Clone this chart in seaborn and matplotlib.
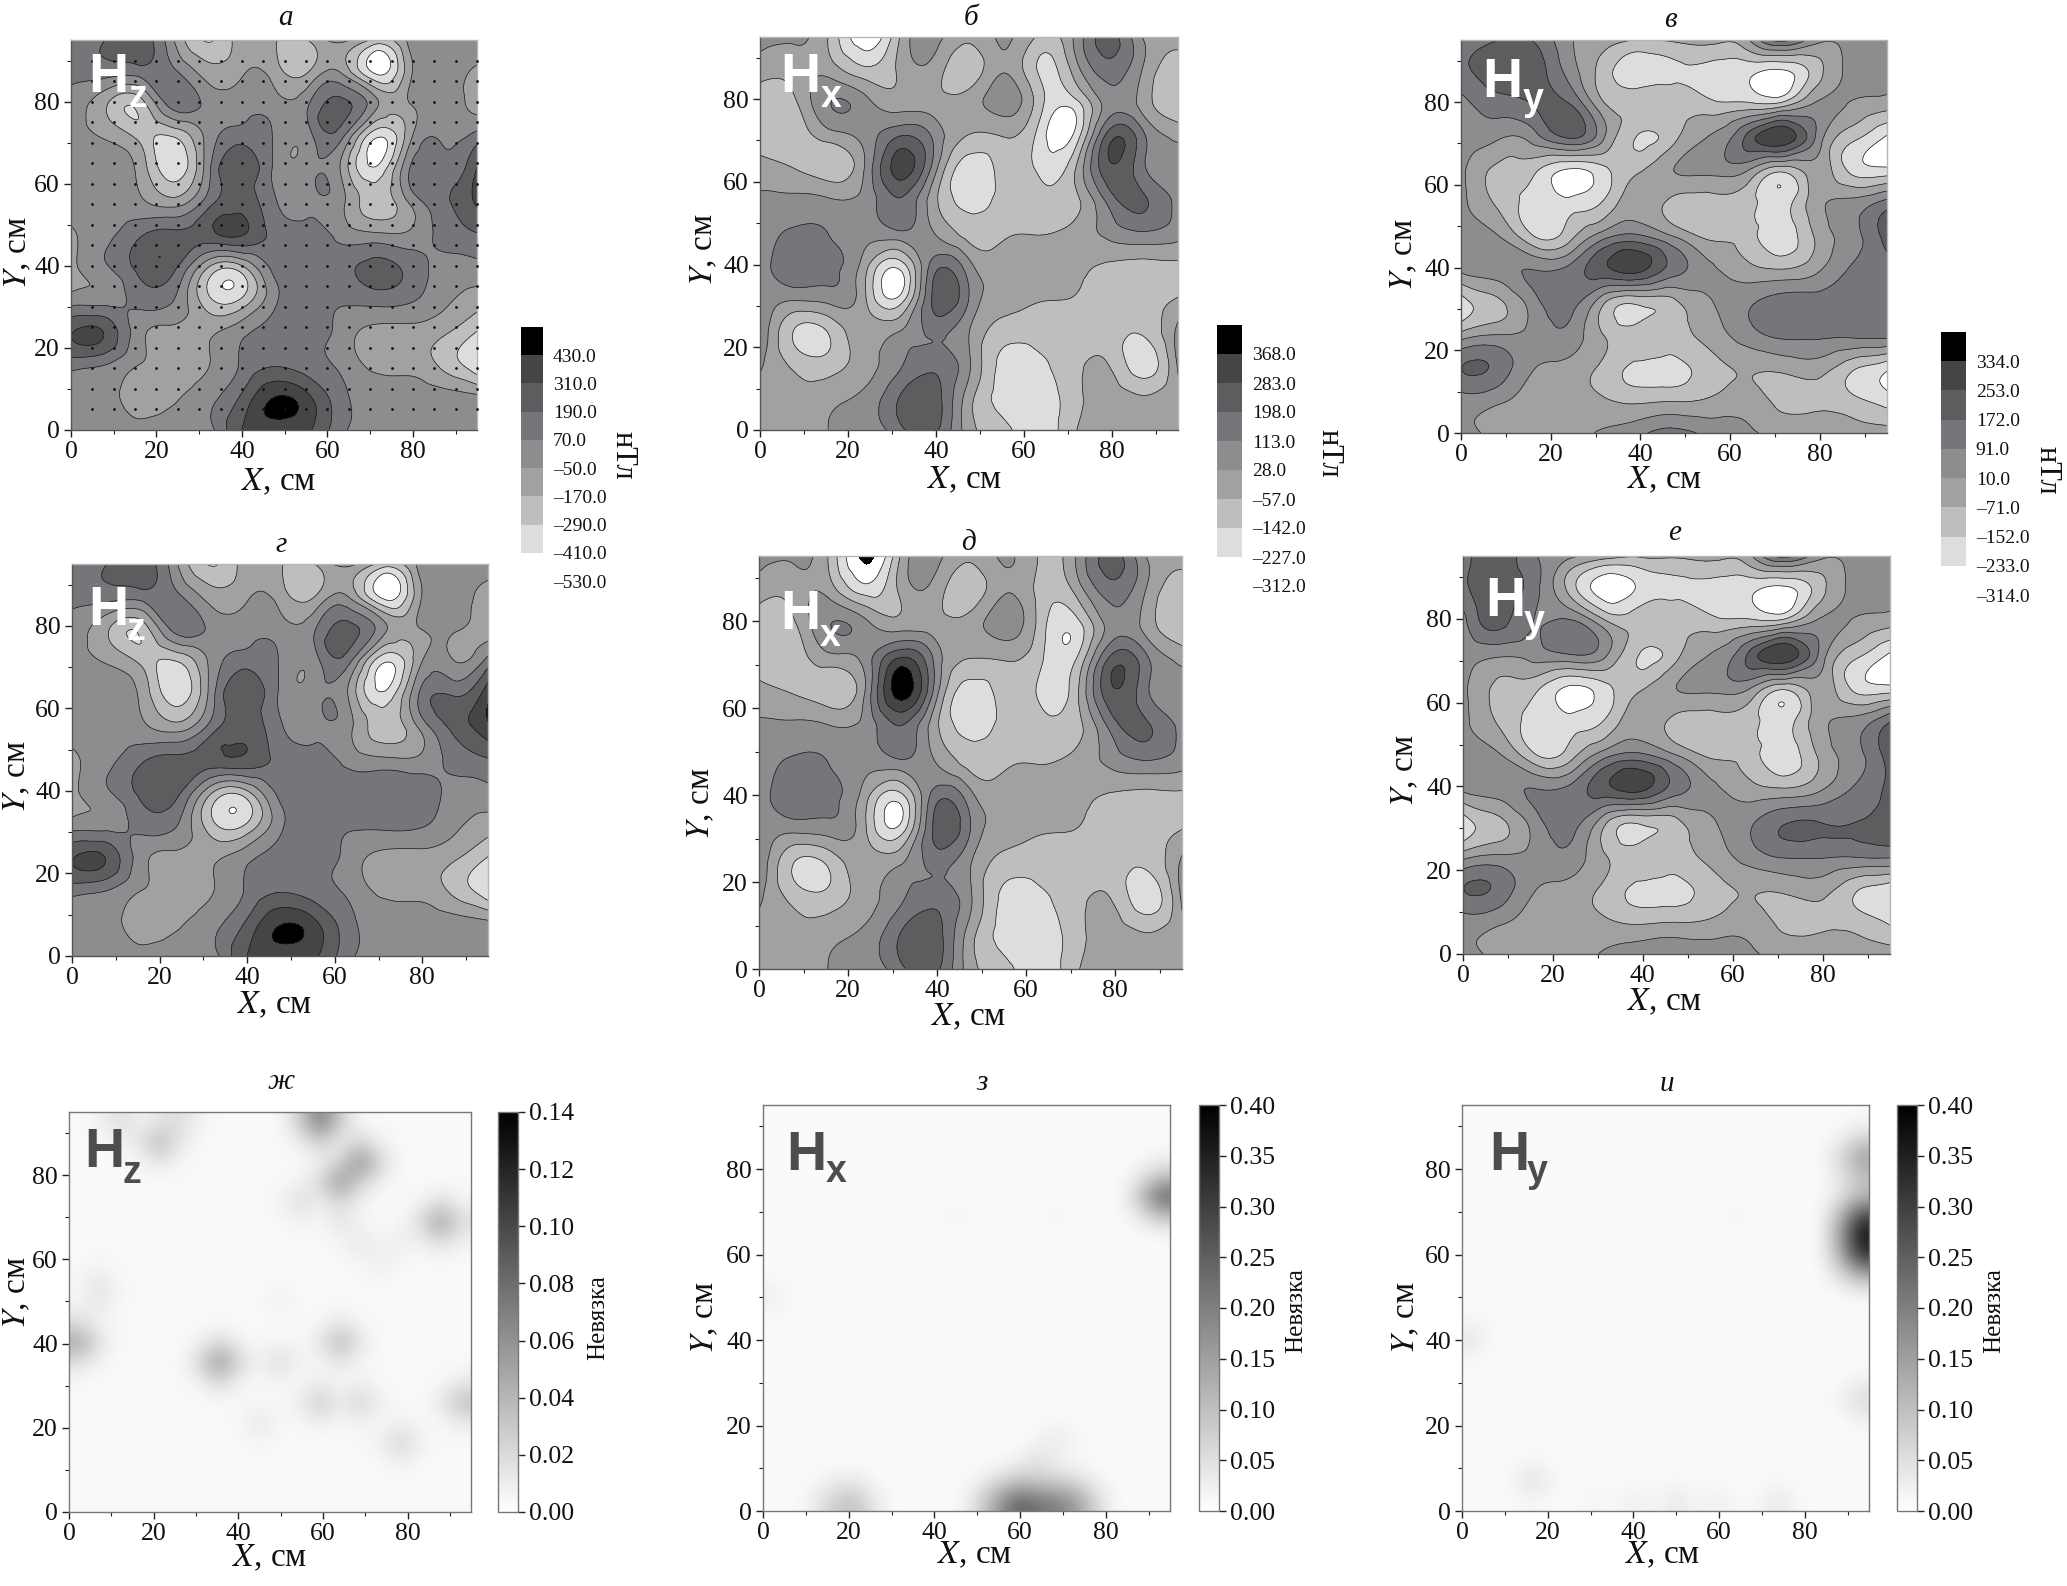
import numpy as np
import matplotlib
matplotlib.use("Agg")
import matplotlib.pyplot as plt
import matplotlib.tri as mtri
from matplotlib.colors import ListedColormap, BoundaryNorm
from matplotlib.cm import ScalarMappable
import seaborn as sns

W, H = 2067, 1586
sns.set_theme(style="ticks")
plt.rcParams["font.family"] = ["Liberation Serif", "DejaVu Serif"]
plt.rcParams["mathtext.fontset"] = "stix"

GRID_AXIS = [0, 7.92, 15.83, 23.75, 31.67, 39.58, 47.5, 55.42, 63.33, 71.25, 79.17, 87.08, 95]
GRID_Y_TOP_DOWN = GRID_AXIS[::-1]

# rows run from Y=95 (top) to Y=0 (bottom), columns from X=0 to X=95
HZ_A = [
    [110, 190, 250, -30, -300, -110, -150, -170, -20, -200, -20, 20, 20],
    [110, 120, 120, 110, -100, -70, -100, -170, -60, -430, -90, 20, -70],
    [20, -150, -250, 120, 30, 20, 10, 60, 230, -20, -60, 10, -90],
    [10, -60, -200, -300, -20, 140, 60, 20, 90, -400, -90, 50, 130],
    [10, 10, -80, -360, 0, 300, 50, 20, -70, -380, 70, 130, 320],
    [10, 10, -20, -110, 120, 260, 90, 40, -20, -240, -40, 160, 330],
    [-70, 30, 170, 230, 260, 320, 140, 110, 30, -20, -20, 110, 180],
    [-90, 50, 220, 230, -150, -220, 100, 90, 140, 230, 150, 30, 30],
    [10, 20, 110, 80, -240, -280, 40, 110, 90, 120, 90, -20, -110],
    [300, 300, 0, -80, -70, 30, 130, 150, 20, -90, -90, -150, -300],
    [120, 70, -50, -100, -60, 80, 180, 130, 40, -80, -90, -200, -380],
    [10, 10, -110, -70, 20, 200, 430, 340, 110, 20, 20, 10, -20],
    [10, 10, 10, 10, 10, 300, 350, 330, 100, 20, 20, 20, 20],
]
HX_B = [
    [60, 40, -70, -290, -60, 60, -40, 40, -70, 30, 230, 20, -20],
    [-20, -20, -10, -120, -40, -10, -110, 20, -150, -30, 160, 20, -120],
    [-110, -70, 110, 60, -15, -20, -20, 80, -100, -180, 70, -10, -120],
    [-100, -110, -10, 60, 190, 90, -60, -50, -170, -220, 230, 130, 0],
    [-20, -60, -110, 30, 320, 70, -190, -110, -160, -80, 260, 130, 70],
    [40, 50, 40, 60, 190, -30, -170, -110, -100, -90, 140, 210, 80],
    [60, 130, 110, 60, 90, 30, -90, -70, -60, -20, 50, 100, 60],
    [70, 170, 140, -20, -200, 160, 60, -15, -15, -30, -70, -90, -80],
    [60, 40, 60, -40, -200, 220, 110, -15, -50, -60, -100, -110, -50],
    [110, -150, -130, -10, 30, 130, 30, -100, -110, -100, -110, -130, 50],
    [40, -80, -100, -10, 100, 170, 40, -170, -160, -90, -57, -190, 40],
    [10, -30, 0, 50, 200, 240, -20, -170, -190, -90, -20, -50, 10],
    [0, -10, 30, 60, 170, 220, -20, -120, -200, -70, -20, -10, 10],
]
HY_C = [
    [130, 170, 170, 30, -30, -70, -60, -40, -20, 200, 40, 50, 50],
    [150, 220, 220, 70, -110, -200, -170, -180, -210, -260, -110, 40, 50],
    [60, 130, 170, 190, -50, -100, -100, -120, -120, -100, 30, 0, -40],
    [40, 20, 40, 170, 20, -160, -90, 20, 180, 310, 80, -130, -250],
    [30, -90, -130, -250, -180, -80, 10, 30, 20, -140, -30, -170, -200],
    [30, -80, -190, -200, -140, -20, -100, -120, -120, -190, -20, 40, 130],
    [40, 20, -140, -110, 60, 110, 10, -90, -110, -200, -60, 60, 210],
    [30, 60, 90, 110, 230, 280, 130, 30, -40, -70, -10, 100, 130],
    [-190, -90, 50, 130, -50, -130, -90, 0, 70, 130, 130, 130, 130],
    [-40, 10, 40, 70, -70, -110, -100, -40, 50, 110, 110, 110, 120],
    [170, 150, 20, -20, -90, -170, -180, -110, -60, -50, -30, -130, -210],
    [50, 30, -20, -30, -60, -90, -80, -60, -30, -90, -90, -130, -190],
    [30, -10, -20, -20, 20, 70, 120, 70, 30, -10, 0, -30, -40],
]
# panels г, д, е read very close to а, б, в: (row, column, value) where they differ
HZ_D_DIFF = [(0, 9, -220), (1, 9, -450), (6, 5, 280), (7, 9, 170), (8, 9, 100), (4, 12, 390), (5, 12, 400),
             (4, 11, 180), (5, 11, 220), (2, 11, -30), (1, 12, -100), (2, 12, -100),
             (3, 11, -40), (6, 0, -80), (11, 6, 420)]
HX_E_DIFF = [(0, 3, -340), (1, 3, -180), (3, 4, 300), (4, 4, 400), (3, 8, -130), (3, 9, -140),
             (7, 4, -180), (8, 4, -180), (1, 8, -90)]
HY_F_DIFF = [(1, 4, -280), (1, 3, -100), (1, 5, -210), (0, 5, -60), (0, 1, 230), (1, 1, 230),
             (1, 2, 120), (0, 2, 100), (2, 1, 200), (2, 2, 90), (2, 3, 110), (3, 3, 80),
             (10, 12, -190), (11, 12, -170), (10, 11, -130), (11, 11, -110), (12, 6, 80),
             (8, 12, 200), (6, 12, 220), (5, 12, 170), (7, 12, 190), (8, 11, 170), (8, 10, 170), (8, 9, 160)]

LEVELS_Z = [-530, -410, -290, -170, -50, 70, 190, 310, 430, 550]
LEVELS_X = [-312, -227, -142, -57, 28, 113, 198, 283, 368, 453]
LEVELS_Y = [-314, -233, -152, -71, 10, 91, 172, 253, 334, 415]
BAND_COLORS = ["#ffffff", "#dcddde", "#bdbec0", "#a0a1a3", "#8c8d8f", "#757679", "#5c5d5f", "#454547", "#000000"]

SAMPLE_X = [5, 10, 15, 20, 25, 30, 35, 40, 45, 50, 55, 60, 65, 70, 75, 80, 85, 90, 95]
SAMPLE_Y = [5, 10, 15, 20, 25, 30, 35, 40, 45, 50, 55, 60, 65, 70, 75, 80, 85, 90]

RES_BASE_G, RES_BASE_H, RES_BASE_I = 0.0035, 0.008, 0.008
RES_G_X = [60, 68, 64, 21, 14, 25, 55, 88, 2, 36, 49, 63, 60, 67, 45, 78, 94, 5, 5, 65, 70, 78, 75, 50]
RES_G_Y = [93, 83, 78, 88, 93, 94, 75, 68, 38, 35, 35, 38, 25, 25, 20, 17, 26, 55, 50, 68, 62, 62, 57, 50]
RES_G_V = [.075, .065, .06, .04, .02, .02, .02, .055, .05, .06, .02, .04, .03, .025, .015, .025, .035,
           .015, .015, .015, .015, .012, .012, .01]
RES_H_X = [93, 95, 20, 17, 60, 55, 65, 70, 72, 62, 67, 0, 45, 70, 75]
RES_H_Y = [73, 80, 3, 2, 3, 2, 2, 2, 3, 10, 15, 50, 70, 70, 60]
RES_H_V = [.25, .05, .10, .08, .25, .15, .22, .2, .15, .05, .04, .03, .02, .02, .015]
RES_I_X = [94, 94, 94, 94, 94, 95, 0, 16, 50, 40, 75, 65, 40, 60, 30]
RES_I_Y = [63, 58, 68, 83, 78, 25, 38, 7, 3, 2, 3, 70, 55, 2, 2]
RES_I_V = [.38, .3, .3, .15, .1, .06, .04, .05, .04, .03, .04, .02, .015, .03, .02]
BLOB_STENCIL = [[.12, .35, .12], [.35, 1, .35], [.12, .35, .12]]


def box(x0, y0, x1, y1):
    return [x0 / W, 1 - y1 / H, (x1 - x0) / W, (y1 - y0) / H]


def ftext(x, y, s, **kw):
    fig.text(x / W, 1 - y / H, s, **kw)


def style_axes(ax, boxed=False):
    ax.set_xlim(0, 95)
    ax.set_ylim(0, 95)
    ax.set_xticks([0, 20, 40, 60, 80])
    ax.set_yticks([0, 20, 40, 60, 80])
    ax.set_xticks([10, 30, 50, 70, 90], minor=True)
    ax.set_yticks([10, 30, 50, 70, 90], minor=True)
    ax.tick_params(which="major", length=5, width=1, labelsize=18.5, pad=3, color="#222222", labelcolor="#111111")
    ax.tick_params(which="minor", length=3, width=0.8, color="#222222")
    for s in ax.spines.values():
        s.set_linewidth(1.0)
        s.set_color("#777777" if boxed else "#b5b5b5")
    if not boxed:
        ax.spines["left"].set_color("#555555")
        ax.spines["bottom"].set_color("#555555")


def contour_panel(rect, grid, levels):
    ax = fig.add_axes(box(*rect))
    X, Y = np.meshgrid(GRID_AXIS, GRID_Y_TOP_DOWN)
    tri = mtri.Triangulation(X.ravel(), Y.ravel())
    fine_tri, fine_z = mtri.UniformTriRefiner(tri).refine_field(np.asarray(grid, float).ravel(), subdiv=4)
    cmap = ListedColormap(BAND_COLORS).with_extremes(under="#000000", over="#000000")
    norm = BoundaryNorm(levels, cmap.N)
    ax.tricontourf(fine_tri, fine_z, levels=levels, cmap=cmap, norm=norm, extend="both")
    ax.tricontour(fine_tri, fine_z, levels=levels[1:-1], colors="#1a1a1a", linewidths=0.5,
                  linestyles="solid", negative_linestyles="solid")
    style_axes(ax)
    return ax


def band_colorbar(rect, levels):
    cax = fig.add_axes(box(*rect))
    cmap = ListedColormap(BAND_COLORS)
    norm = BoundaryNorm(levels, cmap.N)
    cb = fig.colorbar(ScalarMappable(norm=norm, cmap=cmap), cax=cax, spacing="uniform")
    cb.set_ticks(levels[:-1])
    cb.set_ticklabels([f"{v:.1f}".replace("-", "\u2013") for v in levels[:-1]])
    cb.minorticks_off()
    cb.ax.tick_params(which="both", length=0, labelsize=14, pad=7, labelcolor="#111111")
    cb.outline.set_visible(False)


def residual_panel(rect, xs, ys, vs, base, vmax):
    ax = fig.add_axes(box(*rect))
    field = np.full((20, 20), base)
    stencil = np.array(BLOB_STENCIL)
    for x, y, v in zip(xs, ys, vs):
        i, j = min(int(y // 4.75), 19), min(int(x // 4.75), 19)
        for di in (-1, 0, 1):
            for dj in (-1, 0, 1):
                a, b = i + di, j + dj
                if 0 <= a < 20 and 0 <= b < 20:
                    field[a, b] = max(field[a, b], v * stencil[di + 1, dj + 1])
    cmap = sns.blend_palette(["#ffffff", "#000000"], n_colors=256, as_cmap=True)
    im = ax.imshow(field, origin="lower", extent=[0, 95, 0, 95], cmap=cmap, vmin=0, vmax=vmax,
                   interpolation="bicubic", aspect="auto")
    style_axes(ax, boxed=True)
    return im


def field_of(grid, diff=()):
    a = np.array(grid, float)
    for r, c, v in diff:
        a[r, c] = v
    return a


fig = plt.figure(figsize=(W / 100, H / 100), dpi=100, facecolor="white")

contour_panels = [
    ((71, 40, 477, 430), field_of(HZ_A), LEVELS_Z),
    ((760, 37, 1178, 430), field_of(HX_B), LEVELS_X),
    ((1461, 40, 1887, 433), field_of(HY_C), LEVELS_Y),
    ((72, 564, 488, 956), field_of(HZ_A, HZ_D_DIFF), LEVELS_Z),
    ((759, 556, 1182, 969), field_of(HX_B, HX_E_DIFF), LEVELS_X),
    ((1463, 556, 1890, 954), field_of(HY_C, HY_F_DIFF), LEVELS_Y),
]
axes = [contour_panel(*p) for p in contour_panels]
sx, sy = np.meshgrid(SAMPLE_X, SAMPLE_Y)
axes[0].scatter(sx.ravel(), sy.ravel(), s=4, color="#111111", linewidths=0, zorder=5, clip_on=False)

band_colorbar((521, 327, 543, 581), LEVELS_Z)
band_colorbar((1217, 325, 1242, 586), LEVELS_X)
band_colorbar((1941, 332, 1966, 595), LEVELS_Y)
for x, y in [(623, 455), (1329, 453), (2047, 470)]:
    ftext(x, y, "нТл", fontsize=22, rotation=270, ha="center", va="center", color="#111111")

res_panels = [
    ((69, 1112, 471, 1512), RES_G_X, RES_G_Y, RES_G_V, RES_BASE_G, 0.14),
    ((763, 1105, 1170, 1511), RES_H_X, RES_H_Y, RES_H_V, RES_BASE_H, 0.40),
    ((1462, 1105, 1869, 1511), RES_I_X, RES_I_Y, RES_I_V, RES_BASE_I, 0.40),
]
res_cax = [(498, 1112, 518, 1512), (1199, 1105, 1219, 1511), (1897, 1105, 1917, 1511)]
res_ticks = [[0, .02, .04, .06, .08, .10, .12, .14], [0, .05, .10, .15, .20, .25, .30, .35, .40],
             [0, .05, .10, .15, .20, .25, .30, .35, .40]]
for p, c, t in zip(res_panels, res_cax, res_ticks):
    im = residual_panel(*p)
    cax = fig.add_axes(box(*c))
    cb = fig.colorbar(im, cax=cax)
    cb.set_ticks(t)
    cb.set_ticklabels([f"{v:.2f}" for v in t])
    cb.minorticks_off()
    cb.ax.tick_params(length=5, width=1, labelsize=18.5, pad=3, color="#222222", labelcolor="#111111")
    cb.outline.set_edgecolor("#777777")
    cb.outline.set_linewidth(1.0)
for x, y in [(598, 1318), (1296, 1311), (1994, 1311)]:
    ftext(x, y, "Невязка", fontsize=18, rotation=90, ha="center", va="center", color="#111111")

titles = [("а", 285, 18), ("б", 971, 18), ("в", 1670, 20), ("г", 281, 545), ("д", 969, 543), ("е", 1675, 533),
          ("ж", 281, 1082), ("з", 982, 1083), ("и", 1667, 1084)]
for s, x, y in titles:
    ftext(x, y, s, fontsize=21, style="italic", ha="center", va="center", color="#111111")

xlabels = [(279, 482), (965, 480), (1665, 480), (275, 1005), (969, 1017), (1665, 1002), (270, 1558), (975, 1555), (1663, 1555)]
for x, y in xlabels:
    ftext(x, y, r"$\mathit{X}$, см", fontsize=24, ha="center", va="center", color="#111111")
ylabels = [(18, 253), (704, 250), (1404, 255), (17, 777), (701, 804), (1405, 771), (17, 1293), (705, 1318), (1406, 1318)]
for x, y in ylabels:
    ftext(x, y, r"$\mathit{Y}$, см", fontsize=24, rotation=90, ha="center", va="center", color="#111111")

tags = [(88, 92, "z", 128, 107, "white"), (780, 92, "x", 821, 107, "white"), (1482, 97, "y", 1523, 110, "white"),
        (88, 625, "z", 127, 640, "white"), (780, 629, "x", 820, 646, "white"), (1485, 616, "y", 1524, 632, "white"),
        (84, 1167, "z", 123, 1183, "#4d4d4d"), (786, 1170, "x", 826, 1182, "#4d4d4d"), (1489, 1170, "y", 1527, 1182, "#4d4d4d")]
for hx, hy, sub, sx_, sy_, col in tags:
    ftext(hx, hy, "H", fontsize=40, family="Liberation Sans", weight="bold", color=col, ha="left", va="baseline", zorder=20)
    ftext(sx_, sy_, sub, fontsize=27, family="Liberation Sans", weight="bold", color=col, ha="left", va="baseline", zorder=20)

fig.savefig("out.png", dpi=100, facecolor="white")
